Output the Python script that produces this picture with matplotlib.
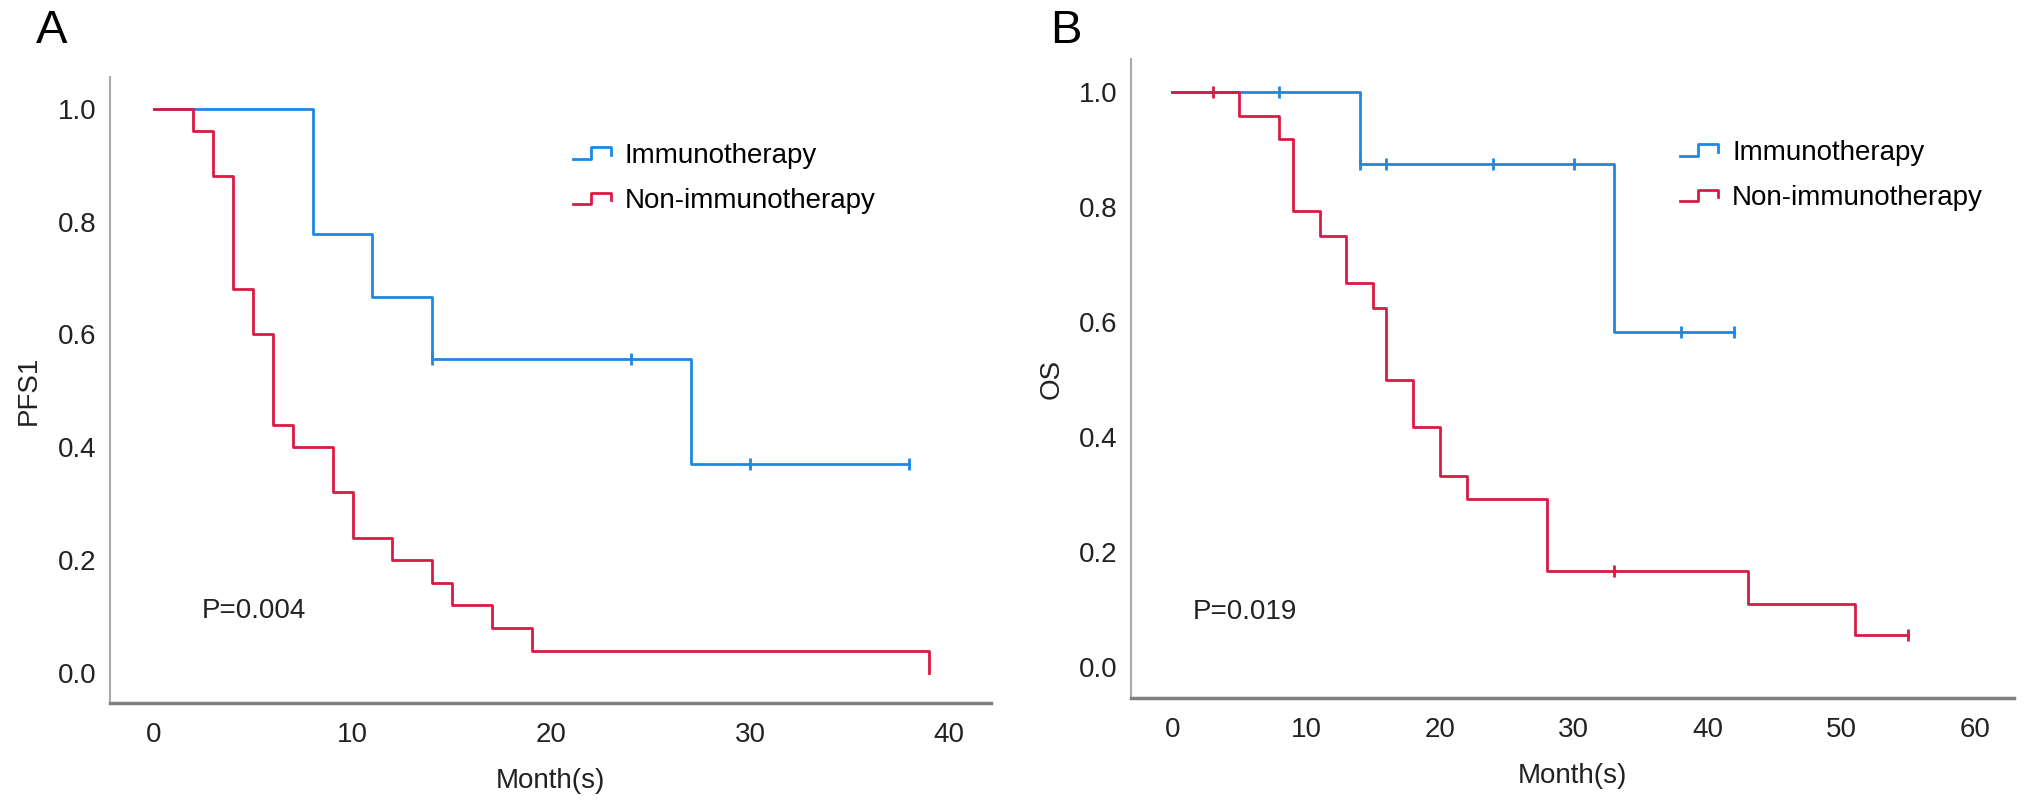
import numpy as np
import matplotlib
matplotlib.use('Agg')
import matplotlib.pyplot as plt
from matplotlib.legend_handler import HandlerBase
from matplotlib.lines import Line2D

plt.rcParams['font.family'] = ['Liberation Sans', 'DejaVu Sans']

# Panel A (PFS1) - step curves
a_immuno_t = [0, 8, 11, 14, 27, 38]
a_immuno_s = [1.0, 0.778, 0.667, 0.556, 0.370, 0.370]
a_immuno_cens_t = [14, 24, 30, 38]
a_immuno_cens_s = [0.556, 0.556, 0.370, 0.370]

a_non_t = [0, 2, 3, 4, 5, 6, 7, 9, 10, 12, 14, 15, 17, 19, 39]
a_non_s = [1.0, 0.96, 0.88, 0.68, 0.60, 0.44, 0.40, 0.32, 0.24, 0.20, 0.16, 0.12, 0.08, 0.04, 0.0]
a_non_cens_t = []
a_non_cens_s = []

# Panel B (OS)
b_immuno_t = [0, 14, 33, 42]
b_immuno_s = [1.0, 0.875, 0.583, 0.583]
b_immuno_cens_t = [8, 14, 16, 24, 30, 38, 42]
b_immuno_cens_s = [1.0, 0.875, 0.875, 0.875, 0.875, 0.583, 0.583]

b_non_t = [0, 5, 8, 9, 11, 13, 15, 16, 18, 20, 22, 28, 43, 51, 55]
b_non_s = [1.0, 0.958, 0.917, 0.792, 0.75, 0.667, 0.625, 0.5, 0.417, 0.333, 0.292, 0.167, 0.111, 0.056, 0.056]
b_non_cens_t = [3, 33, 55]
b_non_cens_s = [1.0, 0.167, 0.056]

labels = ['Immunotherapy', 'Non-immunotherapy']
blue = '#1E88E5'
red = '#D81B45'


class StepHandler(HandlerBase):
    # little step-shaped legend key like the SPSS output
    def create_artists(self, legend, orig_handle, xdescent, ydescent,
                       width, height, fontsize, trans):
        xs = np.array([0, 0.48, 0.48, 1, 1]) * width - xdescent
        ys = np.array([0.2, 0.2, 0.8, 0.8, 0.4]) * height - ydescent
        ln = Line2D(xs, ys, color=orig_handle.get_color(),
                    lw=orig_handle.get_linewidth(), transform=trans)
        return [ln]


def km_panel(ax, curves, xlim, xticks, ylabel, ylabelpad, ptext, ppos):
    for t, s, ct, cs, c in curves:
        ax.step(t, s, where='post', color=c, lw=2)
        ax.plot(ct, cs, ls='none', marker='|', ms=9, mew=2, color=c)
    ax.set_xlim(*xlim)
    ax.set_ylim(-0.053, 1.056)
    ax.set_xticks(xticks)
    ax.set_yticks([0, 0.2, 0.4, 0.6, 0.8, 1.0])
    ax.set_yticklabels(['0.0', '0.2', '0.4', '0.6', '0.8', '1.0'])
    ax.tick_params(length=0, labelsize=20, colors='#222222')
    ax.tick_params(axis='y', pad=10)
    ax.tick_params(axis='x', pad=14)
    for sp in ['top', 'right']:
        ax.spines[sp].set_visible(False)
    ax.spines['left'].set_color('#aaaaaa')
    ax.spines['left'].set_linewidth(1.5)
    ax.spines['bottom'].set_color('#808080')
    ax.spines['bottom'].set_linewidth(2.5)
    ax.set_xlabel('Month(s)', fontsize=20, labelpad=14, color='#222222')
    ax.set_ylabel(ylabel, fontsize=20, labelpad=ylabelpad, color='#222222')
    ax.text(ppos[0], ppos[1], ptext, fontsize=20, va='center', color='#222222')


fig = plt.figure(figsize=(20.32, 8.02), dpi=100)
axA = fig.add_axes([0.0541, 0.1234, 0.4336, 0.7806])
axB = fig.add_axes([0.5566, 0.1297, 0.4344, 0.7963])

km_panel(axA,
         [(a_immuno_t, a_immuno_s, a_immuno_cens_t, a_immuno_cens_s, blue),
          (a_non_t, a_non_s, a_non_cens_t, a_non_cens_s, red)],
         (-2.2, 42.1), [0, 10, 20, 30, 40], 'PFS1', 11, 'P=0.004', (2.4, 0.11))
km_panel(axB,
         [(b_immuno_t, b_immuno_s, b_immuno_cens_t, b_immuno_cens_s, blue),
          (b_non_t, b_non_s, b_non_cens_t, b_non_cens_s, red)],
         (-3.1, 62.9), [0, 10, 20, 30, 40, 50, 60], 'OS', 10, 'P=0.019', (1.5, 0.097))

handles = [Line2D([], [], color=blue, lw=2), Line2D([], [], color=red, lw=2)]
for ax, anchor in [(axA, (0.282, 0.7774)), (axB, (0.8268, 0.7812))]:
    ax.legend(handles, labels, handler_map={Line2D: StepHandler()},
              loc='center left', bbox_to_anchor=anchor, bbox_transform=fig.transFigure,
              frameon=False, fontsize=20, handlelength=1.37, handletextpad=0.5,
              labelspacing=0.7, borderpad=0, borderaxespad=0)

fig.text(52 / 2032, 1 - 31 / 802, 'A', fontsize=34, ha='center', va='center')
fig.text(1066 / 2032, 1 - 31 / 802, 'B', fontsize=34, ha='center', va='center')

fig.savefig('out.png', dpi=100)
